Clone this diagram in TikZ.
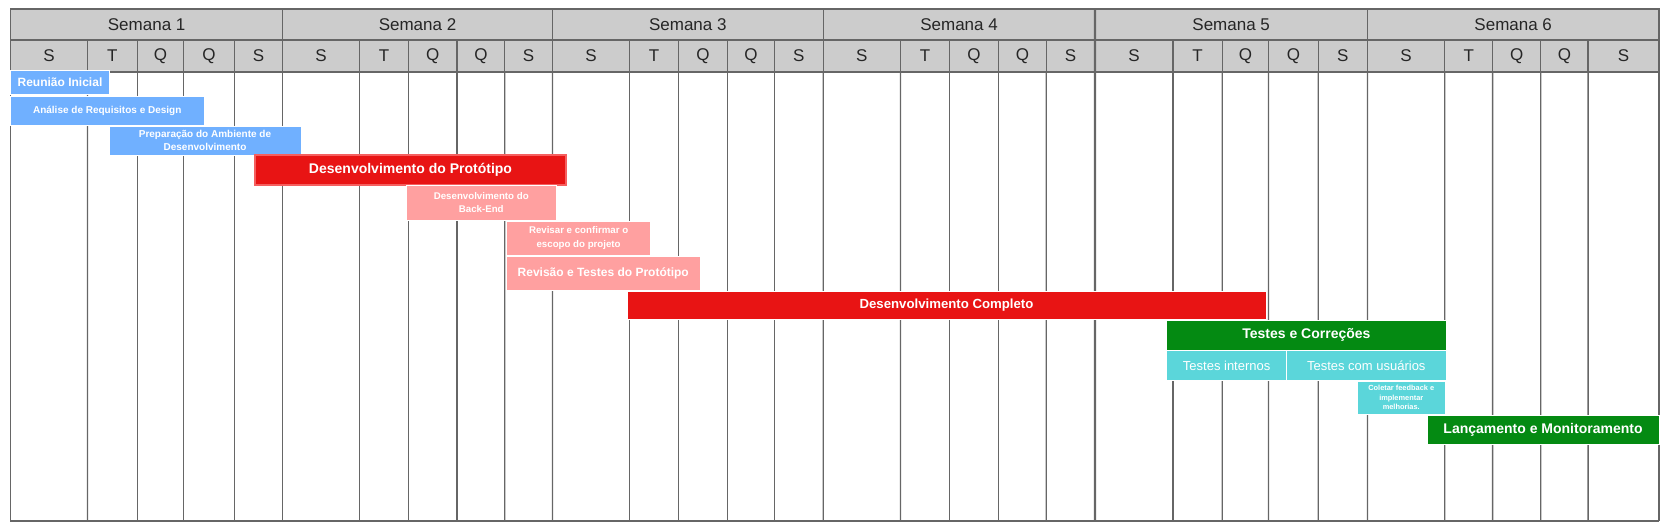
\documentclass[tikz,border=0pt]{standalone}
\usepackage{fontspec}
\setmainfont{Liberation Sans}
\definecolor{hdrgray}{HTML}{CCCCCC}
\definecolor{linegray}{HTML}{666666}
\definecolor{taskblue}{RGB}{112,176,255}
\definecolor{taskred}{RGB}{232,20,20}
\definecolor{taskredline}{RGB}{245,95,95}
\definecolor{taskpink}{RGB}{255,160,160}
\definecolor{taskgreen}{RGB}{4,138,18}
\definecolor{taskcyan}{RGB}{91,214,218}
\tikzset{
  gridline/.style={draw=linegray, line width=1.3pt},
  weekcell/.style={draw=linegray, line width=1.3pt, fill=hdrgray, anchor=north west, inner sep=0pt, outer sep=0pt, minimum height=31pt, text=black!85, font=\fontsize{17}{20}\selectfont},
  daycell/.style={weekcell, minimum height=32pt},
  bar/.style={draw=white, line width=1pt, anchor=north west, inner sep=0pt, outer sep=0pt, text=white, align=center},
  bluebar/.style={bar, fill=taskblue},
  redbar/.style={bar, fill=taskred},
  pinkbar/.style={bar, fill=taskpink},
  greenbar/.style={bar, fill=taskgreen},
  cyanbar/.style={bar, fill=taskcyan},
  fbig/.style={font=\bfseries\fontsize{14}{16}\selectfont},
  fmid/.style={font=\bfseries\fontsize{12}{14}\selectfont},
  fsmall/.style={font=\bfseries\fontsize{10}{13}\selectfont},
  fmini/.style={font=\bfseries\fontsize{9.7}{13.3}\selectfont},
  fmicro/.style={font=\bfseries\fontsize{7.4}{9.5}\selectfont},
  freg/.style={font=\fontsize{13}{15}\selectfont}
}
\newcommand{\taskbar}[7]{\node[#6, minimum width={(#4-#2)*1pt}, minimum height={(#5-#3)*1pt}] (#1) at (#2,#3) {#7}}

\begin{document}
\begin{tikzpicture}[x=1pt, y=-1pt]
\useasboundingbox (0,0) rectangle (1672,531);
\foreach \w/\xa/\xb/\xc/\xd/\xe/\xf in {1/10.7/87.4/137.4/183.5/234.5/282.6, 2/282.6/359.6/408.5/457/504.8/552.4, 3/552.4/629.6/678.5/727.5/774.6/823.2, 4/823.2/900.5/949.5/998.5/1046.3/1094.9, 5/1094.9/1173/1222.2/1268.5/1318.2/1367.4, 6/1367.4/1444.8/1492.6/1540.7/1588.1/1659}{
  \node[weekcell, minimum width={(\xf-\xa)*1pt}] (w\w) at (\xa,9) {Semana \w};
  \foreach \l/\p/\q [count=\i] in {S/\xa/\xb, T/\xb/\xc, Q/\xc/\xd, Q/\xd/\xe, S/\xe/\xf}{
    \node[daycell, minimum width={(\q-\p)*1pt}] (d\w-\i) at (\p,40) {\l};
    \draw[gridline] (d\w-\i.south east) -- (\q,521);
  }
}
\draw[gridline] (d1-1.south west) -- (10.7,521) -- (1659,521);
\draw[gridline, line width=2.2pt] (w4.north east) -- (1094.9,521);

\taskbar{reuniao}{10.5}{70}{109.5}{94}{bluebar, fmid}{Reunião Inicial};
\taskbar{analise}{10.5}{96}{204}{125}{bluebar, fsmall}{Análise de Requisitos e Design};
\taskbar{ambiente}{109}{126}{301}{155}{bluebar, fsmall}{Preparação do Ambiente de\\Desenvolvimento};
\taskbar{prototipo}{255}{155}{566}{185}{redbar, fbig, draw=taskredline, line width=2pt}{Desenvolvimento do Protótipo};
\taskbar{backend}{406.5}{185.5}{556}{220}{pinkbar, fmini}{Desenvolvimento do\\Back-End};
\taskbar{escopo}{506.5}{221}{650.7}{255}{pinkbar, fmini}{Revisar e confirmar o\\escopo do projeto};
\taskbar{revisao}{506.5}{256}{700}{290}{pinkbar, fmid}{Revisão e Testes do Protótipo};
\taskbar{completo}{627}{291}{1266}{319.5}{redbar, font=\bfseries\fontsize{13.2}{15}\selectfont}{Desenvolvimento Completo};
\taskbar{testes}{1166.8}{320.7}{1446}{350}{greenbar, fbig}{Testes e Correções};
\taskbar{internos}{1166.8}{350.7}{1286.5}{380}{cyanbar, freg}{Testes internos};
\taskbar{usuarios}{1286.5}{350.7}{1446}{380}{cyanbar, freg}{Testes com usuários};
\taskbar{feedback}{1357}{381}{1445.5}{414}{cyanbar, fmicro}{Coletar feedback e\\implementar\\melhorias.};
\taskbar{lancamento}{1427}{415}{1659}{444}{greenbar, fbig}{Lançamento e Monitoramento};
\end{tikzpicture}
\end{document}
